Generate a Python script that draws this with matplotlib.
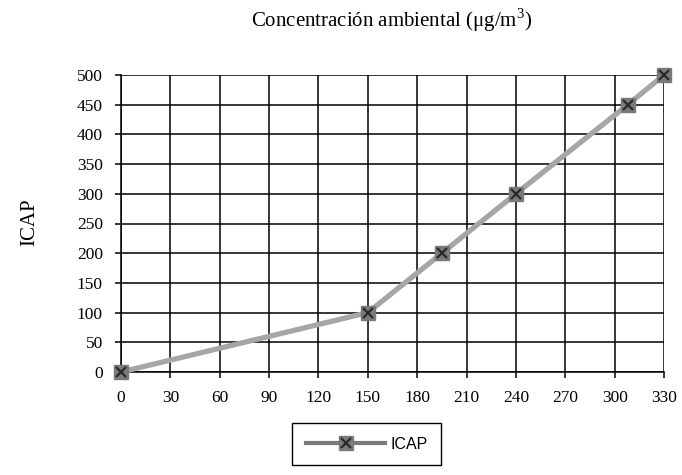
import matplotlib
matplotlib.use("Agg")
import matplotlib.pyplot as plt
from matplotlib.legend_handler import HandlerTuple

x_vals = [0, 150, 195, 240, 308, 330]
icap = [0, 100, 200, 300, 450, 500]
x_ticks = [0, 30, 60, 90, 120, 150, 180, 210, 240, 270, 300, 330]
y_ticks = [0, 50, 100, 150, 200, 250, 300, 350, 400, 450, 500]
title = "Concentración ambiental (μg/m$^3$)"
ylabel = "ICAP"
series_name = "ICAP"

plt.rcParams['font.family'] = ['Liberation Serif', 'DejaVu Serif']
plt.rcParams['mathtext.fontset'] = 'custom'
plt.rcParams['mathtext.rm'] = 'Liberation Serif'

fig = plt.figure(figsize=(6.82, 4.75), dpi=100)
W, H = 682, 475
L, R, T, B = 121, 664, 75, 372
ax = fig.add_axes([L / W, 1 - B / H, (R - L) / W, (B - T) / H])

ax.set_xlim(0, 330)
ax.set_ylim(0, 500)
ax.set_xticks(x_ticks)
ax.set_yticks(y_ticks)
ax.grid(True, color='black', linewidth=1.1)
ax.set_axisbelow(True)
for s in ax.spines.values():
    s.set_visible(False)
for s in ['left', 'bottom']:
    ax.spines[s].set_visible(True)
    ax.spines[s].set_linewidth(1.1)
ax.tick_params(direction='out', length=4, width=1.1, labelsize=12.5)
ax.tick_params(axis='x', pad=9)
ax.tick_params(axis='y', pad=9)

line, = ax.plot(x_vals, icap, color='#a6a6a6', linewidth=3.8, marker='s',
                markersize=9.5, markerfacecolor='#7a7a7a', markeredgecolor='#7a7a7a',
                clip_on=False, zorder=3)
xm, = ax.plot(x_vals, icap, linestyle='none', marker='x', markersize=7.5,
              markeredgecolor='#2a2a2a', markeredgewidth=1.6, clip_on=False, zorder=4)

fig.text(391.5 / W, 1 - 20 / H, title, ha='center', va='center', fontsize=15)
fig.text(30 / W, 1 - 222 / H, ylabel, ha='center', va='center', rotation=90, fontsize=15)

leg_line, = ax.plot([], [], color='#7a7a7a', linewidth=3, marker='s', markersize=9.5,
                    markerfacecolor='#7a7a7a', markeredgecolor='#7a7a7a')
leg = fig.legend([(leg_line, xm)], [series_name], handler_map={tuple: HandlerTuple(ndivide=1)},
                 loc='upper left', bbox_to_anchor=(292 / W, 1 - 423 / H),
                 prop={'family': 'Liberation Sans', 'size': 11.5},
                 handlelength=5.0, handletextpad=0.3, borderpad=0.85, borderaxespad=0,
                 fancybox=False, frameon=True, edgecolor='black', framealpha=1)
leg.get_frame().set_linewidth(1.0)

fig.savefig('out.png', dpi=100)
